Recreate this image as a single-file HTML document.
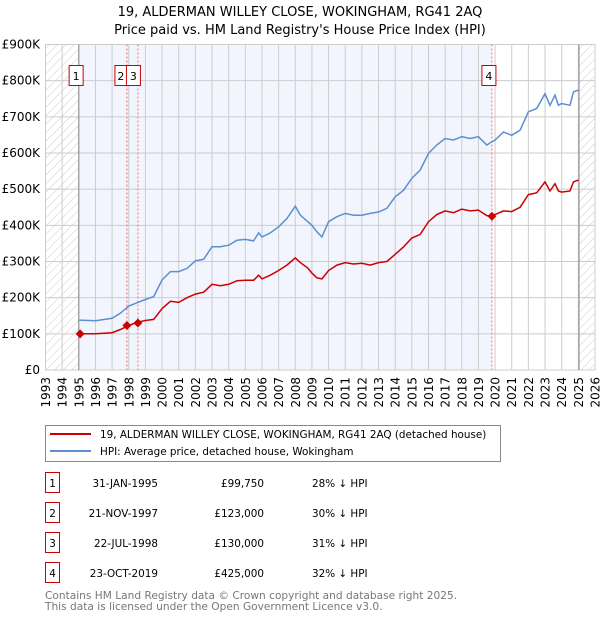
<!DOCTYPE html>
<html><head><meta charset="utf-8"><style>
body{margin:0;background:#fff;font-family:"DejaVu Sans","Liberation Sans",sans-serif;}
svg text{font-family:"DejaVu Sans","Liberation Sans",sans-serif;}
</style></head><body>
<svg id="chart" width="600" height="620" xmlns="http://www.w3.org/2000/svg">
<defs><pattern id="hatch" width="6" height="6" patternUnits="userSpaceOnUse" patternTransform="rotate(45)"><line x1="0" y1="0" x2="0" y2="6" stroke="#ccc" stroke-width="1"/></pattern></defs>
<text x="300" y="16" text-anchor="middle" font-size="13">19, ALDERMAN WILLEY CLOSE, WOKINGHAM, RG41 2AQ</text>
<text x="300" y="34" text-anchor="middle" font-size="13">Price paid vs. HM Land Registry's House Price Index (HPI)</text>
<g id="plot"></g>
<g>
<rect x="45.5" y="425.5" width="455" height="36" fill="#fff" stroke="#888"/>
<line x1="50" y1="434" x2="91" y2="434" stroke="#cc0000" stroke-width="2"/>
<text x="100" y="438" font-size="10.4">19, ALDERMAN WILLEY CLOSE, WOKINGHAM, RG41 2AQ (detached house)</text>
<line x1="50" y1="451" x2="91" y2="451" stroke="#5b8fd1" stroke-width="2"/>
<text x="100" y="455" font-size="10.4">HPI: Average price, detached house, Wokingham</text>
</g>
<g id="table" font-size="10.4"></g>
<text x="45" y="599" font-size="10.6" fill="#777">Contains HM Land Registry data © Crown copyright and database right 2025.</text>
<text x="45" y="610" font-size="10.6" fill="#777">This data is licensed under the Open Government Licence v3.0.</text>
</svg>
<script>
const hpiYears=[1995,1996,1997,1997.5,1998,1998.5,1999,1999.5,2000,2000.5,2001,2001.5,2002,2002.5,2003,2003.5,2004,2004.5,2005,2005.5,2005.8,2006,2006.5,2007,2007.5,2008,2008.3,2008.75,2009,2009.3,2009.6,2010,2010.5,2011,2011.5,2012,2012.5,2013,2013.5,2014,2014.5,2015,2015.5,2016,2016.5,2017,2017.5,2018,2018.5,2019,2019.5,2019.8,2020,2020.5,2021,2021.5,2022,2022.5,2023,2023.3,2023.6,2023.8,2024,2024.5,2024.7,2025];
const hpiValues=[138,136,143,157,177,186,195,203,249,272,272,281,302,306,341,341,345,359,361,357,379,368,379,396,419,453,428,410,400,382,368,410,424,433,428,428,433,437,447,479,497,530,553,599,622,640,636,645,640,645,622,631,636,658,649,663,714,723,764,732,760,732,737,732,769,774];
const priceValues=[100,100,103,112,123,132,137,140,170,190,187,200,210,215,237,233,237,247,248,248,262,252,262,275,290,310,297,282,268,255,252,275,290,297,293,295,290,297,300,320,340,365,375,410,430,440,435,445,440,442,427,425,430,440,438,450,485,490,520,495,515,495,492,495,520,525];
const saleYears=[1995.08,1997.89,1998.55,2019.81];
const saleValues=[99.75,123,130,425];
const saleLabels=["1","2","3","4"];
const saleDates=["31-JAN-1995","21-NOV-1997","22-JUL-1998","23-OCT-2019"];
const salePrices=["£99,750","£123,000","£130,000","£425,000"];
const saleDiffs=["28% ↓ HPI","30% ↓ HPI","31% ↓ HPI","32% ↓ HPI"];
const yTicks=[0,100,200,300,400,500,600,700,800,900];
const yTickLabels=["£0","£100K","£200K","£300K","£400K","£500K","£600K","£700K","£800K","£900K"];
const xTicks=[1993,1994,1995,1996,1997,1998,1999,2000,2001,2002,2003,2004,2005,2006,2007,2008,2009,2010,2011,2012,2013,2014,2015,2016,2017,2018,2019,2020,2021,2022,2023,2024,2025,2026];

const NS="http://www.w3.org/2000/svg";
const X0=45.5,X1=595,Y0=370,Y1=44.5;
const xs=y=>X0+(y-1993)/(2026-1993)*(X1-X0);
const ys=v=>Y0-v/900*(Y0-Y1);
const plot=document.getElementById('plot');
function mk(tag,attrs,parent){const e=document.createElementNS(NS,tag);for(const k in attrs)e.setAttribute(k,attrs[k]);(parent||plot).appendChild(e);return e;}

let e=mk('rect',{x:xs(1995),y:Y1,width:xs(2019.81)-xs(1995),height:Y0-Y1,fill:'#f2f5fd'});


e=mk('rect',{x:X0,y:Y1,width:xs(1995)-X0,height:Y0-Y1,fill:'url(#hatch)'});


e=mk('rect',{x:xs(2025.04),y:Y1,width:X1-xs(2025.04),height:Y0-Y1,fill:'url(#hatch)'});



yTicks.forEach((t,i)=>{
  const l=mk('line',{x1:X0,x2:X1,y1:ys(t),y2:ys(t),stroke:'#ccc','stroke-width':1});
  
  
  const tx=mk('text',{x:40,y:ys(t)+4,'text-anchor':'end','font-size':12});
  tx.textContent=yTickLabels[i];
  
  
});
xTicks.forEach(t=>{
  const l=mk('line',{x1:xs(t),x2:xs(t),y1:Y1,y2:Y0,stroke:'#ccc','stroke-width':1});
  
  
  const tx=mk('text',{x:0,y:0,'text-anchor':'end','font-size':12,transform:`translate(${xs(t)+4.5},377) rotate(-90)`});
  tx.textContent=t;
  
  
});
e=mk('rect',{x:X0,y:Y1,width:X1-X0,height:Y0-Y1,fill:'none',stroke:'#ccc'});


e=mk('line',{x1:xs(1995),x2:xs(1995),y1:Y1,y2:Y0,stroke:'#888'});


e=mk('line',{x1:xs(2025.04),x2:xs(2025.04),y1:Y1,y2:Y0,stroke:'#888'});



saleYears.forEach((s,i)=>{
  if(i>0){const l=mk('line',{x1:xs(s),x2:xs(s),y1:Y1,y2:Y0,stroke:'#f07070','stroke-dasharray':'2,2'});
  
  }
});

const pts=(vals)=>hpiYears.map((y,i)=>xs(y).toFixed(1)+','+ys(vals[i]).toFixed(1)).join(' ');
e=mk('polyline',{points:pts(hpiValues),fill:'none',stroke:'#5b8fd1','stroke-width':1.5});


e=mk('polyline',{points:pts(priceValues),fill:'none',stroke:'#cc0000','stroke-width':1.5});



const boxOff=[-11,-12,-11.5,-10];
const boxW=[14,12,14,14];
saleYears.forEach((s,i)=>{
  const cx=xs(s),cy=ys(saleValues[i]);
  const d=mk('polygon',{points:`${cx},${cy-4.5} ${cx+4.5},${cy} ${cx},${cy+4.5} ${cx-4.5},${cy}`,fill:'#cc0000'});
  
  
  const bx=cx+boxOff[i];
  const g=mk('g',{});
  
  
  mk('rect',{x:bx,y:65.5,width:boxW[i],height:20,fill:'#fff',stroke:'#cc0000'},g);
  const t=mk('text',{x:bx+boxW[i]/2,y:80,'text-anchor':'middle','font-size':11},g);
  t.textContent=saleLabels[i];
});

const tb=document.getElementById('table');
saleYears.forEach((s,i)=>{
  const cy=483+i*30;
  const g=mk('g',{},tb);
  
  
  mk('rect',{x:45.5,y:cy-10.5,width:14,height:20,fill:'#fff',stroke:'#cc0000'},g);
  let t=mk('text',{x:52.5,y:cy+4,'text-anchor':'middle'},g);t.textContent=saleLabels[i];
  t=mk('text',{x:158,y:cy+4,'text-anchor':'end'},g);t.textContent=saleDates[i];
  t=mk('text',{x:264,y:cy+4,'text-anchor':'end'},g);t.textContent=salePrices[i];
  t=mk('text',{x:312,y:cy+4},g);t.textContent=saleDiffs[i];
});
</script>
</body></html>
